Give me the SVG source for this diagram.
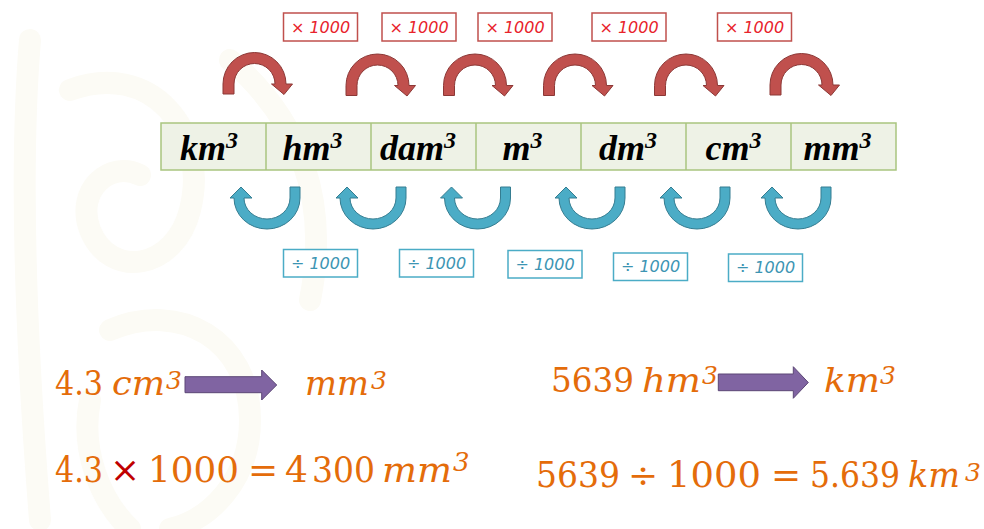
<svg xmlns="http://www.w3.org/2000/svg" xmlns:xlink="http://www.w3.org/1999/xlink" width="984" height="529" viewBox="0 0 984 529">
<style>
.bgdeco{fill:none;stroke:#fcfbf5;stroke-width:22;stroke-linecap:round}
.red{fill:#c0504d;stroke:#8c3836;stroke-width:1}
.blue{fill:#4bacc6;stroke:#357d91;stroke-width:1}
.rbox{fill:#ffffff;stroke:#c0504d;stroke-width:1.5}
.bbox{fill:#ffffff;stroke:#4bacc6;stroke-width:1.5}
.rlab{font-family:"DejaVu Sans",sans-serif;font-style:oblique;font-size:16px;fill:#e8232b;text-anchor:middle}
.blab{font-family:"DejaVu Sans",sans-serif;font-style:oblique;font-size:16px;fill:#3d95b3;text-anchor:middle}
.cell{fill:#eef2e6;stroke:#a9c57f;stroke-width:1.5}
.div{stroke:#a9c57f;stroke-width:1.5}
.unit{font-family:"Liberation Serif",serif;font-weight:bold;font-style:italic;font-size:36px;fill:#000000;text-anchor:middle}
.m{font-family:"DejaVu Serif",serif;fill:#e46c0a}
.mi{font-family:"DejaVu Serif",serif;font-style:italic;fill:#e46c0a}
.purple{fill:#8064a2;stroke:#5c4776;stroke-width:1}
</style>
<defs>
<path id="redArrow" d="M -31.5,10 L -31.5,0 A 31.5 31.5 0 0 1 31.5,0 L 38,0 L 29.5,10.5 L 17,0 L 20.5,0 A 20.5 20.5 0 0 0 -20.5,0 L -20.5,10 Z"/>
<path id="blueArrow" d="M 33,-11 L 33,0 A 33 31 0 0 1 -33,0 L -37,0 L -26,-11 L -15,0 L -23,0 A 23 21 0 0 0 23,0 L 23,-11 Z"/>
</defs>
<rect x="0" y="0" width="984" height="529" fill="#ffffff"/>
<g id="background">
<path class="bgdeco" d="M30,40 C20,160 25,330 40,520"/>
<path class="bgdeco" d="M70,90 C150,60 210,130 190,210 C175,270 110,280 90,230 C75,190 110,160 140,175"/>
<path class="bgdeco" d="M110,330 C180,300 250,340 250,420 C250,480 210,520 170,529"/>
<path class="bgdeco" d="M230,60 C300,120 330,200 310,300"/>
<path class="bgdeco" d="M90,400 C80,450 100,500 130,529"/>
</g>
<g id="table">
<rect class="cell" x="161" y="123" width="735" height="47"/>
<line class="div" x1="266" y1="123" x2="266" y2="170"/>
<line class="div" x1="371" y1="123" x2="371" y2="170"/>
<line class="div" x1="476" y1="123" x2="476" y2="170"/>
<line class="div" x1="581" y1="123" x2="581" y2="170"/>
<line class="div" x1="686" y1="123" x2="686" y2="170"/>
<line class="div" x1="791" y1="123" x2="791" y2="170"/>
</g>
<g id="node-km3"><text class="unit" x="209" y="160">km<tspan font-size="24" dy="-12">3</tspan></text></g>
<g id="node-hm3"><text class="unit" x="312.5" y="160">hm<tspan font-size="24" dy="-12">3</tspan></text></g>
<g id="node-dam3"><text class="unit" x="418" y="160">dam<tspan font-size="24" dy="-12">3</tspan></text></g>
<g id="node-m3"><text class="unit" x="522.5" y="160">m<tspan font-size="24" dy="-12">3</tspan></text></g>
<g id="node-dm3"><text class="unit" x="628" y="160">dm<tspan font-size="24" dy="-12">3</tspan></text></g>
<g id="node-cm3"><text class="unit" x="733.5" y="160">cm<tspan font-size="24" dy="-12">3</tspan></text></g>
<g id="node-mm3"><text class="unit" x="837.5" y="160">mm<tspan font-size="24" dy="-12">3</tspan></text></g>
<g id="connectors">
<use xlink:href="#redArrow" href="#redArrow" class="red" x="254.5" y="84"/>
<use xlink:href="#redArrow" href="#redArrow" class="red" x="377.5" y="85.5"/>
<use xlink:href="#redArrow" href="#redArrow" class="red" x="475" y="85.5"/>
<use xlink:href="#redArrow" href="#redArrow" class="red" x="575" y="85.5"/>
<use xlink:href="#redArrow" href="#redArrow" class="red" x="686" y="85.5"/>
<use xlink:href="#redArrow" href="#redArrow" class="red" x="801.5" y="85"/>
<use xlink:href="#blueArrow" href="#blueArrow" class="blue" x="267" y="198"/>
<use xlink:href="#blueArrow" href="#blueArrow" class="blue" x="373" y="198"/>
<use xlink:href="#blueArrow" href="#blueArrow" class="blue" x="477.5" y="198"/>
<use xlink:href="#blueArrow" href="#blueArrow" class="blue" x="592" y="198"/>
<use xlink:href="#blueArrow" href="#blueArrow" class="blue" x="697" y="198"/>
<use xlink:href="#blueArrow" href="#blueArrow" class="blue" x="798" y="198"/>
</g>
<g id="mul-labels">
<rect class="rbox" x="283.5" y="13" width="74" height="28"/><text class="rlab" x="320.5" y="33">× 1000</text>
<rect class="rbox" x="382" y="13" width="74" height="28"/><text class="rlab" x="419" y="33">× 1000</text>
<rect class="rbox" x="478" y="13" width="74" height="28"/><text class="rlab" x="515" y="33">× 1000</text>
<rect class="rbox" x="592" y="13" width="74" height="28"/><text class="rlab" x="629" y="33">× 1000</text>
<rect class="rbox" x="717.5" y="13" width="74" height="28"/><text class="rlab" x="754.5" y="33">× 1000</text>
</g>
<g id="div-labels">
<rect class="bbox" x="283.5" y="249.5" width="74" height="27.5"/><text class="blab" x="320.5" y="268.5">÷ 1000</text>
<rect class="bbox" x="399.5" y="249.5" width="74" height="27.5"/><text class="blab" x="436.5" y="268.5">÷ 1000</text>
<rect class="bbox" x="508" y="250.5" width="74" height="27.5"/><text class="blab" x="545" y="269.5">÷ 1000</text>
<rect class="bbox" x="613.5" y="253" width="74" height="27.5"/><text class="blab" x="650.5" y="272">÷ 1000</text>
<rect class="bbox" x="728.5" y="254" width="74" height="27.5"/><text class="blab" x="765.5" y="273">÷ 1000</text>
</g>
<g id="example1">
<text class="m" x="55" y="395" font-size="34" textLength="48" lengthAdjust="spacingAndGlyphs">4.3</text>
<text class="mi" y="395" font-size="34"><tspan x="112" textLength="53" lengthAdjust="spacingAndGlyphs">cm</tspan><tspan x="166" y="389" font-size="25">3</tspan></text>
<path class="purple" d="M185,376.7 L261.7,376.7 L261.7,370 L276.7,385 L261.7,400 L261.7,392.7 L185,392.7 Z"/>
<text class="mi" y="395" font-size="34"><tspan x="305" textLength="64" lengthAdjust="spacingAndGlyphs">mm</tspan><tspan x="371" y="389" font-size="25">3</tspan></text>
<text class="m" x="55" y="482" font-size="36" textLength="48" lengthAdjust="spacingAndGlyphs">4.3</text>
<text x="110" y="482" font-size="36" font-family="DejaVu Serif, serif" fill="#c00000">×</text>
<text class="m" x="148" y="482" font-size="36" textLength="91" lengthAdjust="spacingAndGlyphs">1000</text>
<text class="m" x="248" y="482" font-size="36">=</text>
<text class="m" x="285" y="482" font-size="36">4</text>
<text class="m" x="312" y="482" font-size="36" textLength="63" lengthAdjust="spacingAndGlyphs">300</text>
<text class="mi" y="482" font-size="36"><tspan x="382" textLength="70" lengthAdjust="spacingAndGlyphs">mm</tspan><tspan x="453" y="471" font-size="26">3</tspan></text>
</g>
<g id="example2">
<text class="m" x="551" y="391.5" font-size="34" textLength="83" lengthAdjust="spacingAndGlyphs">5639</text>
<text class="mi" y="391.5" font-size="34"><tspan x="642" textLength="59" lengthAdjust="spacingAndGlyphs">hm</tspan><tspan x="702" y="384" font-size="25">3</tspan></text>
<path class="purple" d="M718.3,374 L793.3,374 L793.3,366.7 L808.3,382.5 L793.3,398.3 L793.3,390.7 L718.3,390.7 Z"/>
<text class="mi" y="391.5" font-size="34"><tspan x="824" textLength="56" lengthAdjust="spacingAndGlyphs">km</tspan><tspan x="880" y="384" font-size="25">3</tspan></text>
<text class="m" x="536" y="487" font-size="36" textLength="84" lengthAdjust="spacingAndGlyphs">5639</text>
<text class="m" x="628" y="487" font-size="36">÷</text>
<text class="m" x="667" y="487" font-size="36" textLength="94" lengthAdjust="spacingAndGlyphs">1000</text>
<text class="m" x="771" y="487" font-size="36">=</text>
<text class="m" x="810" y="487" font-size="36" textLength="90" lengthAdjust="spacingAndGlyphs">5.639</text>
<text class="mi" y="487" font-size="36"><tspan x="908" textLength="52" lengthAdjust="spacingAndGlyphs">km</tspan><tspan x="965" y="481" font-size="25">3</tspan></text>
</g>
</svg>
